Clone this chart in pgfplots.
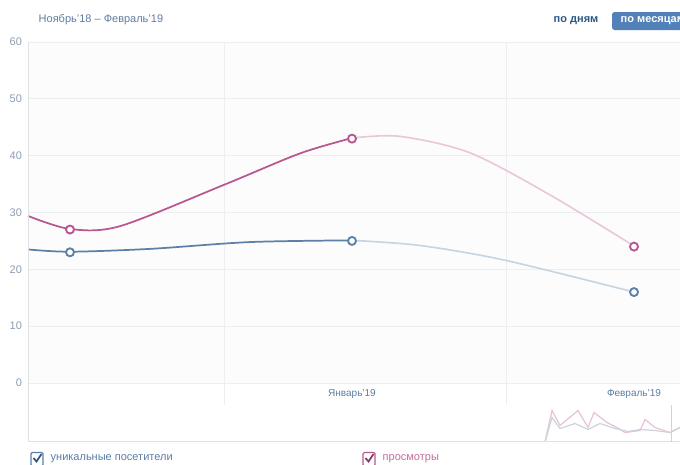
\documentclass[border=0pt]{standalone}
\usepackage{fontspec}
\setmainfont{Liberation Sans}
\usepackage{pgfplots}
\pgfplotsset{compat=1.18}

\definecolor{viewsc}{HTML}{B9568F}
\definecolor{viewsl}{HTML}{EAC6DB}
\definecolor{uniqc}{HTML}{5B81A8}
\definecolor{uniql}{HTML}{C6D4E2}
\definecolor{gridc}{HTML}{ECEFF2}
\definecolor{bgc}{HTML}{FCFCFC}
\definecolor{tickc}{HTML}{8D9DB0}
\definecolor{monthc}{HTML}{5A7EA5}
\definecolor{btnc}{HTML}{5181B8}
\definecolor{linkc}{HTML}{2A5885}
\definecolor{navp}{HTML}{E6C3D6}
\definecolor{navb}{HTML}{CDD3DB}

\begin{document}
\begin{tikzpicture}
\path[use as bounding box] (0,0) rectangle (510pt,-348pt);
\fill[white] (0,0) rectangle (510pt,-348pt);

% main chart
\begin{axis}[
    at={(21pt,-287.25pt)}, anchor=south west,
    scale only axis, width=489pt, height=255.75pt,
    xmin=28, xmax=680, ymin=0, ymax=60,
    ytick={0,10,...,60}, xtick=\empty,
    ymajorgrids, grid style={gridc, line width=0.75pt},
    axis line style={draw=none}, tick style={draw=none},
    axis background/.style={fill=bgc},
    yticklabel style={font=\fontsize{8.25}{10}\selectfont, text=tickc, xshift=-1pt},
    /pgf/number format/assume math mode=true,
    clip=false,
]
\draw[gridc, line width=0.75pt] (axis cs:224,-3.87) -- (axis cs:224,60);
\draw[gridc, line width=0.75pt] (axis cs:506,-3.87) -- (axis cs:506,60);
\node[text=monthc, font=\fontsize{7.5}{9}\selectfont] at (axis cs:352,-1.94) {Январь'19};
\node[text=monthc, font=\fontsize{7.5}{9}\selectfont] at (axis cs:634,-1.94) {Февраль'19};

% views, light part (after January)
\addplot[viewsl, line width=1.2pt, smooth] coordinates {
    (352,43.1) (400,43.4) (470,40.5) (550,33.1) (634,24.1)
};
% unique visitors, light part
\addplot[uniql, line width=1.2pt, smooth] coordinates {
    (352,25.1) (420,24.2) (505,21.6) (634,16.0)
};
% views, dark part
\addplot[viewsc, line width=1.3pt, smooth] coordinates {
    (28,29.4) (70,27.1) (120,27.6) (223,34.8) (300,40.4) (352,43.1)
};
% unique visitors, dark part
\addplot[uniqc, line width=1.3pt, smooth] coordinates {
    (28,23.5) (70,23.1) (150,23.6) (250,24.8) (352,25.1)
};
\addplot[only marks, mark=*, mark size=3pt,
    mark options={fill=white, draw=viewsc, line width=1.4pt}] coordinates {
    (70,27) (352,43) (634,24)
};
\addplot[only marks, mark=*, mark size=3pt,
    mark options={fill=white, draw=uniqc, line width=1.4pt}] coordinates {
    (70,23) (352,25) (634,16)
};
\end{axis}

% navigator
\begin{axis}[
    at={(21pt,-331.5pt)}, anchor=south west,
    scale only axis, width=489pt, height=27.75pt,
    xmin=28, xmax=680, ymin=0, ymax=37,
    axis lines=none, ticks=none, clip=false,
]
\addplot[navp, line width=0.9pt] coordinates {
    (545,0) (552,31.5) (560,16.5) (578,31.5) (588,14.5) (594,29.5) (607,19.5) (617,14.5)
    (625,9.5) (640,11.5) (645,22.5) (655,14.5) (670,9.5) (680,14.5)
};
\addplot[navb, line width=0.9pt] coordinates {
    (545,0) (552,24.5) (560,13.5) (575,18.5) (588,12.5) (600,18.5) (615,13.5)
    (628,10.5) (640,12.5) (655,11.5) (670,9.5) (680,14.5)
};
\end{axis}

\begin{scope}[x=0.75pt, y=-0.75pt]
% axis frame lines
\draw[gridc!70!gray!60, line width=0.75pt] (28,42) -- (28,441.5) -- (680,441.5);
\draw[navb, line width=0.75pt] (671,405) -- (671,441.5);

% header
\node[anchor=west, text=monthc!85!gray, font=\fontsize{8.25}{10}\selectfont] at (34,20) {Ноябрь'18 – Февраль'19};
\node[anchor=west, text=linkc, font=\bfseries\fontsize{8.25}{10}\selectfont] at (549,21) {по дням};
\fill[btnc, rounded corners=2pt] (612,12) rectangle (700,30);
\node[anchor=west, text=white, font=\bfseries\fontsize{8.25}{10}\selectfont] at (616,21) {по месяцам};

% legend
\draw[uniqc, line width=0.9pt, rounded corners=1pt] (31,452.5) rectangle (43,466);
\draw[linkc, line width=1.3pt] (33.5,458) -- (36.5,461.5) -- (41.5,454);
\node[anchor=west, text=monthc, font=\fontsize{8.25}{10}\selectfont] at (46,458.5) {уникальные посетители};
\draw[viewsc, line width=0.9pt, rounded corners=1pt] (363,452.5) rectangle (375,466);
\draw[viewsc!70!black, line width=1.3pt] (365.5,458) -- (368.5,461.5) -- (373.5,454);
\node[anchor=west, text=viewsc!85!white, font=\fontsize{8.25}{10}\selectfont] at (378,458.5) {просмотры};
\end{scope}
\end{tikzpicture}
\end{document}
